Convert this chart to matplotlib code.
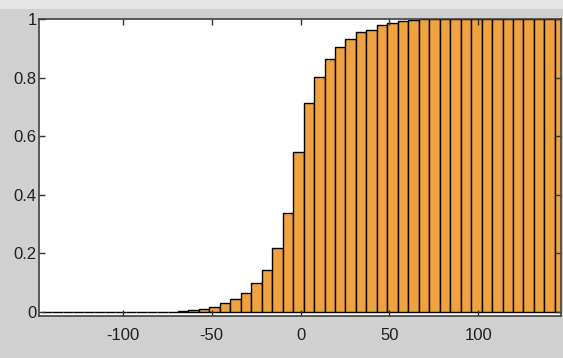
import matplotlib
matplotlib.use("Agg")
import matplotlib.pyplot as plt
from matplotlib.patches import Rectangle
import numpy as np

# bin layout
first_edge = -145.55
bin_width = 5.89
n_bins = 50

# cumulative fraction per bin
cum_values = [0, 0, 0, 0, 0, 0, 0, 0, 0, 0,
              0, 0, 0, 0.002, 0.004, 0.008, 0.017, 0.028, 0.043, 0.064,
              0.097, 0.144, 0.216, 0.339, 0.546, 0.713, 0.801, 0.865, 0.905, 0.932,
              0.955, 0.964, 0.979, 0.988, 0.993, 0.997, 1, 1, 1, 1,
              1, 1, 1, 1, 1, 1, 1, 1, 1, 1]

x_ticks = [-100, -50, 0, 50, 100]
x_tick_labels = ["-100", "-50", "0", "50", "100"]
y_ticks = [0, 0.2, 0.4, 0.6, 0.8, 1]
y_tick_labels = ["0", "0.2", "0.4", "0.6", "0.8", "1"]

plt.rcParams['font.family'] = ['Liberation Sans', 'DejaVu Sans']

fig = plt.figure(figsize=(5.63, 3.58), dpi=100, facecolor="#d0d0d0")
# lighter strip at the very top
fig.patches.append(Rectangle((0, 1 - 9 / 358), 1, 9 / 358, transform=fig.transFigure,
                             facecolor="#e4e4e4", edgecolor="none", zorder=0))

ax = fig.add_axes([39.3 / 563, (358 - 316) / 358, (561 - 39.3) / 563, (316 - 19.3) / 358])
ax.set_facecolor("white")

edges = first_edge + bin_width * np.arange(n_bins)
ax.bar(edges, cum_values, width=bin_width, align="edge", color="#f0a33c",
       edgecolor="black", linewidth=1.0)

ax.set_xlim(-147, 146.5)
ax.set_ylim(-0.015, 1)
ax.set_xticks(x_ticks)
ax.set_xticklabels(x_tick_labels)
ax.set_yticks(y_ticks)
ax.set_yticklabels(y_tick_labels)

ax.tick_params(direction="in", length=4, width=1, colors="#303030",
               top=True, right=True, labelsize=12, labelcolor="#202020")
ax.tick_params(axis="x", pad=8.5)
ax.tick_params(axis="y", pad=2)
for s in ax.spines.values():
    s.set_color("#404040")
    s.set_linewidth(1.2)

fig.savefig("out.png", dpi=100, facecolor=fig.get_facecolor())
